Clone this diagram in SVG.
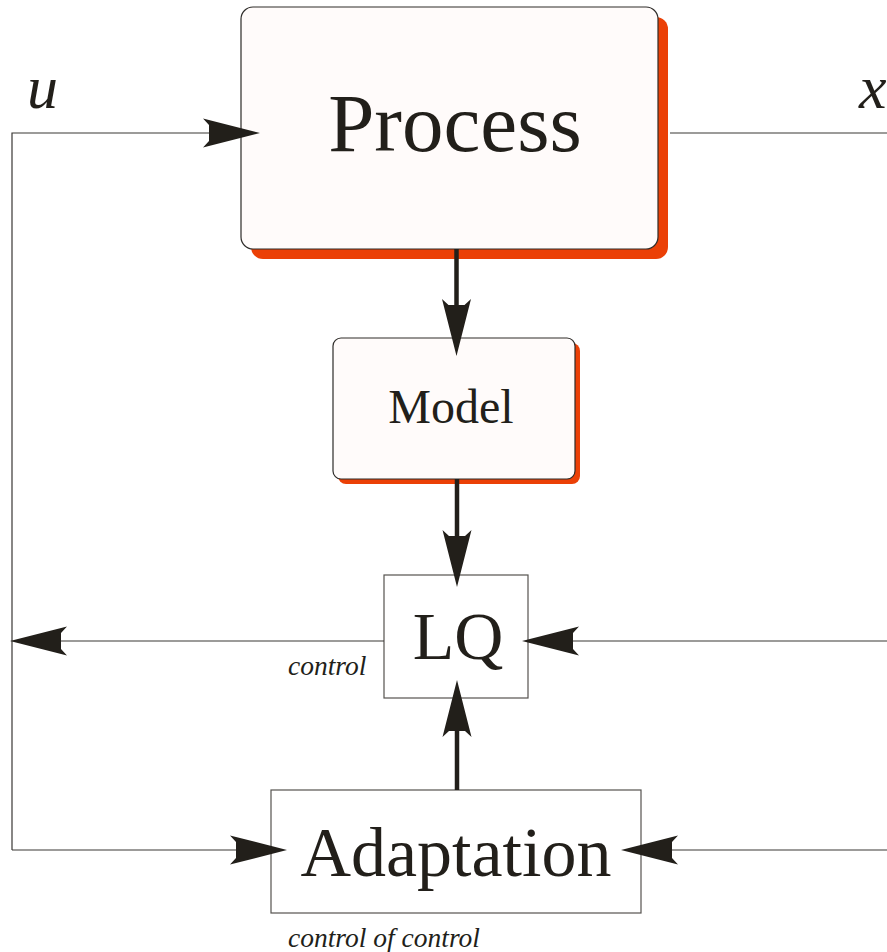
<svg xmlns="http://www.w3.org/2000/svg" width="887" height="952" viewBox="0 0 887 952">
  <style>
    .lbl { font-family: "Liberation Serif", "Times New Roman", serif; fill: #221f1a; }
    .it { font-style: italic; }
    .thin { fill: none; stroke: #3a3835; stroke-width: 1.2; }
    .thick { fill: none; stroke: #221f1a; stroke-width: 4.5; }
    .card { fill: #fffbfa; stroke: #2e2c29; stroke-width: 1.2; }
    .plain { fill: #ffffff; stroke: #55534f; stroke-width: 1.2; }
    .shadow { fill: #eb4006; }
  </style>
  <defs>
    <marker id="head" markerUnits="userSpaceOnUse" viewBox="-20 -16 62 32" markerWidth="62" markerHeight="32" refX="0" refY="0" orient="auto">
      <path d="M40,0 L-17,-14.5 L-11,-8 L-11,8 L-17,14.5 Z" fill="#221f1a"/>
    </marker>
  </defs>

  <rect width="887" height="952" fill="#ffffff"/>

  <g id="process">
    <rect class="shadow" x="251" y="17" width="417" height="242" rx="12"/>
    <rect class="card" x="241" y="7" width="417" height="242" rx="12"/>
    <text class="lbl" x="455" y="151" font-size="83" text-anchor="middle">Process</text>
  </g>

  <g id="model">
    <rect class="shadow" x="338" y="343" width="242" height="141" rx="8"/>
    <rect class="card" x="333" y="338" width="242" height="141" rx="8"/>
    <text class="lbl" x="451" y="423" font-size="48" text-anchor="middle">Model</text>
  </g>

  <g id="lq">
    <rect class="plain" x="384" y="575" width="144" height="123"/>
    <text class="lbl" x="458" y="659" font-size="68" text-anchor="middle">LQ</text>
  </g>

  <g id="adaptation">
    <rect class="plain" x="271" y="790" width="370" height="123"/>
    <text class="lbl" x="456" y="876" font-size="70" text-anchor="middle">Adaptation</text>
  </g>

  <!-- signal lines, drawn last so the arrowheads overlap the block edges -->
  <g id="connectors">
    <path class="thin" d="M12,850 V133 H220" marker-end="url(#head)"/>
    <path class="thin" d="M12,850 H247" marker-end="url(#head)"/>
    <path class="thin" d="M384,641 H50" marker-end="url(#head)"/>
    <path class="thin" d="M670,133 H887"/>
    <path class="thin" d="M887,641 H562" marker-end="url(#head)"/>
    <path class="thin" d="M887,850 H661" marker-end="url(#head)"/>
    <path class="thick" d="M456.5,249 V316" marker-end="url(#head)"/>
    <path class="thick" d="M457,479 V547" marker-end="url(#head)"/>
    <path class="thick" d="M457,790 V720" marker-end="url(#head)"/>
  </g>

  <g id="labels">
    <text class="lbl it" x="27" y="108" font-size="62">u</text>
    <text class="lbl it" x="859" y="108" font-size="62">x</text>
    <text class="lbl it" x="288" y="675" font-size="27.5">control</text>
    <text class="lbl it" x="288" y="947" font-size="27.5">control of control</text>
  </g>
</svg>
